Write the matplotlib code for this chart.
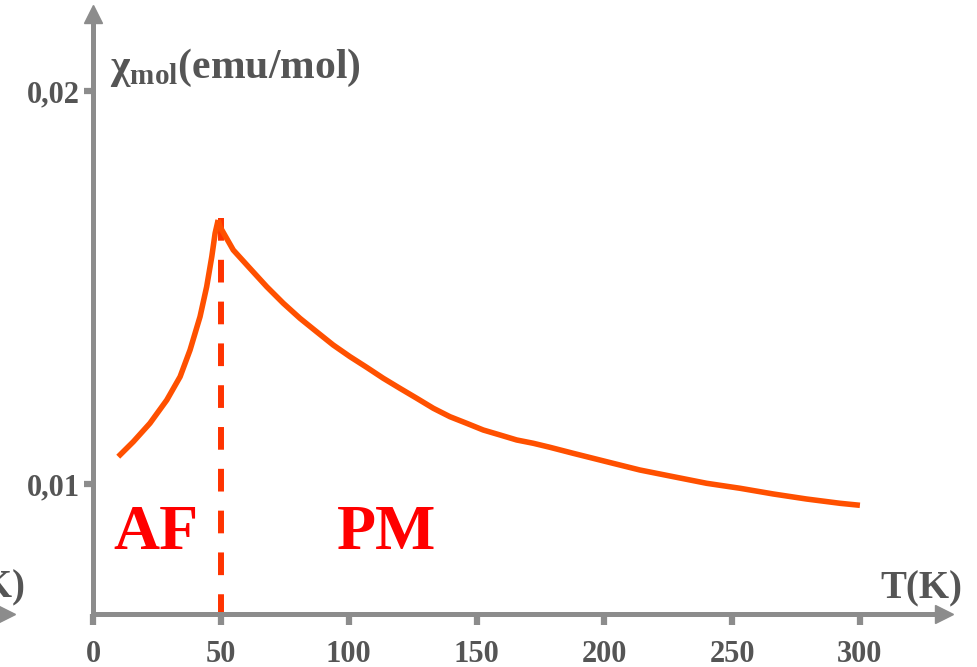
import numpy as np
import matplotlib as mpl
mpl.use('Agg')
import matplotlib.pyplot as plt

T_af = [9.8, 15.7, 22.2, 28.8, 34.0, 37.9, 41.8, 44.4, 46.4, 47.7, 48.9]
chi_af = [0.010695, 0.011076, 0.011545, 0.012137, 0.012730, 0.013410,
          0.014257, 0.015020, 0.015784, 0.016379, 0.016718]
T_pm = [48.9, 49.6, 54.8, 61.3, 67.9, 74.4, 80.9, 87.4, 93.9, 100.5,
        107.0, 113.5, 120.0, 126.6, 133.1, 139.6, 146.1, 152.6, 159.2,
        165.7, 172.2, 178.7, 187.8, 200.9, 213.9, 227.0, 240.0, 253.1,
        266.1, 279.1, 292.2, 300.0]
chi_pm = [0.016718, 0.016547, 0.015954, 0.015489, 0.015020, 0.014598,
          0.014216, 0.013875, 0.013537, 0.013239, 0.012969, 0.012690,
          0.012435, 0.012181, 0.011926, 0.011712, 0.011545, 0.011374,
          0.011247, 0.011120, 0.011036, 0.010934, 0.010781, 0.010567,
          0.010356, 0.010186, 0.010018, 0.009891, 0.009746, 0.009618,
          0.009509, 0.009458]
T_neel = 50
x_ticks = [0, 50, 100, 150, 200, 250, 300]
x_labels = ['0', '50', '100', '150', '200', '250', '300']
y_ticks = [0.01, 0.02]
y_labels = ['0,01', '0,02']

GRAY = '#8c8c8c'
TXT = '#555555'

plt.rcParams['font.family'] = ['Liberation Serif', 'DejaVu Serif']
plt.rcParams['font.weight'] = 'bold'

W, H = 977, 667
fig = plt.figure(figsize=(W / 100, H / 100), dpi=100)
ax = fig.add_axes([93.2 / W, 53 / H, (944 - 93.2) / W, 600 / H])

ax.set_xlim(0, 332.9)
ax.set_ylim(0.006692, 0.021959)

for s in ['top', 'right']:
    ax.spines[s].set_visible(False)
for s in ['left', 'bottom']:
    ax.spines[s].set_color(GRAY)
    ax.spines[s].set_linewidth(3.6)

# arrow heads
ax.plot([1], [0], marker='>', ms=13, color=GRAY, transform=ax.transAxes, clip_on=False)
ax.plot([0], [1], marker='^', ms=13, color=GRAY, transform=ax.transAxes, clip_on=False)

ax.set_xticks(x_ticks)
ax.set_xticklabels(x_labels)
ax.set_yticks(y_ticks)
ax.set_yticklabels(y_labels)
ax.tick_params(axis='both', direction='out', color=GRAY, width=4.5,
               labelsize=22, labelcolor=TXT)
ax.tick_params(axis='x', length=8, pad=10.5)
ax.tick_params(axis='y', length=6.5, pad=3)

# transition line
ax.plot([T_neel, T_neel], [chi_af[-1] + 0.00005, ax.get_ylim()[0]],
        color='#ff3300', lw=4.3, dashes=(3.8, 3.2), zorder=2)

ax.plot(T_af, chi_af, color='#ff5000', lw=4, solid_capstyle='butt',
        solid_joinstyle='round', zorder=3)
ax.plot(T_pm, chi_pm, color='#ff5000', lw=4, solid_capstyle='butt',
        solid_joinstyle='round', zorder=3)

ax.text(7.7, 0.008346, 'AF', color='#ff0000', fontsize=46, ha='left', va='baseline')
ax.text(95.4, 0.008346, 'PM', color='#ff0000', fontsize=46, ha='left', va='baseline')

# axis titles
fig.text(110 / W, (H - 78) / H, r'χ$_{\mathregular{mol}}$(emu/mol)',
         fontsize=30, color=TXT, ha='left', va='baseline')
fig.text(962 / W, (H - 598) / H, 'T(K)', fontsize=28, color=TXT,
         ha='right', va='baseline')

# cut-off remains of a neighbouring axis at the left edge
fig.text(25 / W, (H - 597) / H, 'T(K)', fontsize=28, color=TXT,
         ha='right', va='baseline')
fig.add_artist(plt.Line2D([6 / W], [(H - 613.5) / H], marker='>', ms=13,
                          color=GRAY, transform=fig.transFigure))

fig.savefig('out.png', dpi=100)
